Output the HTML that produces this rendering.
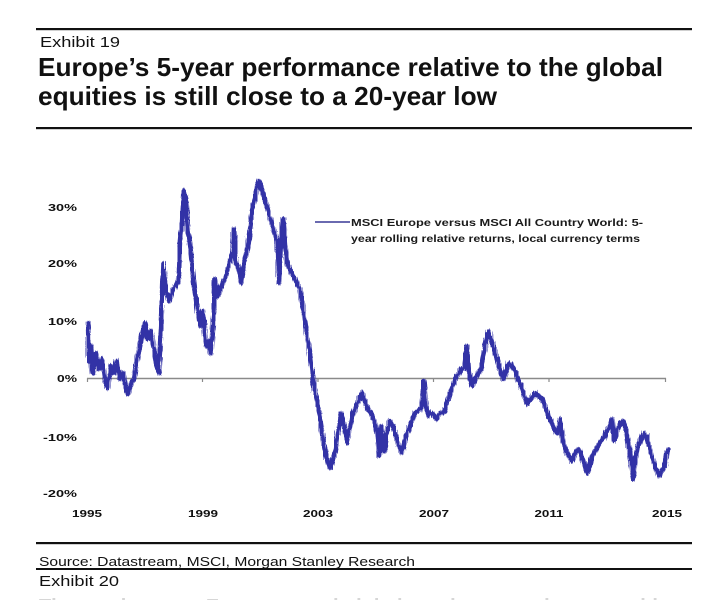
<!DOCTYPE html>
<html>
<head>
<meta charset="utf-8">
<style>
html,body{margin:0;padding:0;background:#fff;}
body{width:717px;height:600px;overflow:hidden;}
svg{display:block;}
text{font-family:"Liberation Sans",Arial,sans-serif;}
</style>
</head>
<body>
<svg width="717" height="600" viewBox="0 0 717 600" xmlns="http://www.w3.org/2000/svg">
  <defs>
    <filter id="jit" filterUnits="userSpaceOnUse" x="70" y="160" width="620" height="340">
      <feTurbulence type="turbulence" baseFrequency="0.9 0.04" numOctaves="2" seed="7" result="n"/>
      <feDisplacementMap in="SourceGraphic" in2="n" scale="4" xChannelSelector="R" yChannelSelector="G"/>
    </filter>
  </defs>
  <rect width="717" height="600" fill="#fff"/>
  <!-- header -->
  <rect x="36" y="28" width="656" height="2.2" fill="#111"/>
  <text x="40" y="47" font-size="15" fill="#111" textLength="80" lengthAdjust="spacingAndGlyphs">Exhibit 19</text>
  <text x="38" y="76" font-size="26" font-weight="bold" fill="#111" textLength="625" lengthAdjust="spacingAndGlyphs">Europe’s 5-year performance relative to the global</text>
  <text x="38" y="105" font-size="26" font-weight="bold" fill="#111" textLength="459" lengthAdjust="spacingAndGlyphs">equities is still close to a 20-year low</text>
  <rect x="36" y="127" width="656" height="2.2" fill="#111"/>

  <!-- y labels -->
  <g font-size="10" font-weight="bold" fill="#111" text-anchor="end">
    <text x="77" y="211" textLength="29" lengthAdjust="spacingAndGlyphs">30%</text>
    <text x="77" y="267" textLength="29" lengthAdjust="spacingAndGlyphs">20%</text>
    <text x="77" y="325" textLength="29" lengthAdjust="spacingAndGlyphs">10%</text>
    <text x="77" y="382" textLength="20" lengthAdjust="spacingAndGlyphs">0%</text>
    <text x="77" y="441" textLength="34" lengthAdjust="spacingAndGlyphs">-10%</text>
    <text x="77" y="497" textLength="34" lengthAdjust="spacingAndGlyphs">-20%</text>
  </g>
  <!-- x labels -->
  <g font-size="10" font-weight="bold" fill="#111" text-anchor="middle">
    <text x="87" y="517" textLength="30" lengthAdjust="spacingAndGlyphs">1995</text>
    <text x="203" y="517" textLength="30" lengthAdjust="spacingAndGlyphs">1999</text>
    <text x="318" y="517" textLength="30" lengthAdjust="spacingAndGlyphs">2003</text>
    <text x="434" y="517" textLength="30" lengthAdjust="spacingAndGlyphs">2007</text>
    <text x="549" y="517" textLength="29" lengthAdjust="spacingAndGlyphs">2011</text>
    <text x="667" y="517" textLength="30" lengthAdjust="spacingAndGlyphs">2015</text>
  </g>

  <!-- axis -->
  <line x1="87" y1="378.5" x2="666" y2="378.5" stroke="#8a8a8a" stroke-width="1.5"/>
  <g stroke="#8a8a8a" stroke-width="1.2">
    <line x1="87.5" y1="378" x2="87.5" y2="382"/>
    <line x1="202.5" y1="378" x2="202.5" y2="382"/>
    <line x1="318" y1="378" x2="318" y2="382"/>
    <line x1="433.5" y1="378" x2="433.5" y2="382"/>
    <line x1="549" y1="378" x2="549" y2="382"/>
    <line x1="665.5" y1="378" x2="665.5" y2="382"/>
  </g>

  <!-- series -->
  <g filter="url(#jit)">
  <polyline fill="none" stroke="#3333a6" stroke-width="4.6" stroke-linejoin="round" stroke-linecap="round"
    points="87,322 88,360 90,345 92,372 95,352 98,368 101,358 104,380 107,387 110,365 113,372 116,360 119,378 122,372 125,388 127,393 130,382 133,378 136,360 139,345 142,330 144,322 147,338 150,330 153,350 156,368 158,372 160,320 162,262 165,290 168,300 171,292 174,285 177,282 179,240 181,222 183,190 185,200 187,230 190,255 193,285 196,305 199,325 202,310 205,345 208,340 210,352 212,320 214,278 217,295 220,285 223,280 226,270 229,260 232,250 233,228 235,262 237,265 240,282 243,262 246,250 248,240 251,210 253,200 256,185 258,180 261,190 264,200 267,210 270,220 273,230 276,240 278,282 280,240 282,218 284,245 286,262 289,268 292,275 296,282 299,288 301,300 304,322 307,340 310,360 312,378 315,395 318,410 321,430 324,450 327,462 329,467 331,460 334,452 337,430 340,412 343,425 346,442 349,425 352,412 355,405 358,398 361,392 364,400 367,408 370,412 373,420 376,430 378,455 380,425 383,450 386,430 389,420 392,425 395,435 398,445 401,452 404,440 407,430 410,422 414,412 418,410 421,405 423,380 425,405 428,415 431,412 435,418 439,412 443,412 446,400 449,392 452,385 456,375 460,368 463,368 466,345 468,372 471,385 474,378 477,372 480,368 483,350 486,335 488,330 490,338 493,348 496,358 499,368 502,378 505,370 508,362 511,365 514,370 517,378 520,385 523,395 526,403 529,398 532,395 535,392 538,395 541,398 544,405 547,415 550,420 553,428 556,432 559,418 562,440 565,450 568,455 571,460 574,452 577,448 580,452 583,462 586,472 588,468 591,455 594,450 597,445 600,440 603,437 606,430 609,425 611,418 613,440 616,430 619,422 622,420 625,430 628,448 630,460 632,478 634,458 637,445 640,438 643,432 646,435 649,448 652,458 655,468 658,475 661,470 664,465 666,450 667,448"/>
  </g>

  <!-- legend -->
  <line x1="315" y1="222" x2="350" y2="222" stroke="#6a6ab0" stroke-width="2"/>
  <text x="351" y="226" font-size="10.5" font-weight="bold" fill="#1a1a1a" textLength="292" lengthAdjust="spacingAndGlyphs">MSCI Europe versus MSCI All Country World: 5-</text>
  <text x="351" y="242" font-size="10.5" font-weight="bold" fill="#1a1a1a" textLength="289" lengthAdjust="spacingAndGlyphs">year rolling relative returns, local currency terms</text>

  <!-- footer -->
  <rect x="36" y="542" width="656" height="2.2" fill="#111"/>
  <text x="39" y="566" font-size="12.5" fill="#111" textLength="376" lengthAdjust="spacingAndGlyphs">Source: Datastream, MSCI, Morgan Stanley Research</text>
  <rect x="36" y="568" width="656" height="2" fill="#111"/>
  <text x="39" y="586" font-size="15" fill="#111" textLength="80" lengthAdjust="spacingAndGlyphs">Exhibit 20</text>
  <text x="39" y="617" font-size="26" font-weight="bold" fill="#d6d6d6" textLength="630" lengthAdjust="spacingAndGlyphs">The gap between European and global earnings remains very wide</text>
</svg>
</body>
</html>
